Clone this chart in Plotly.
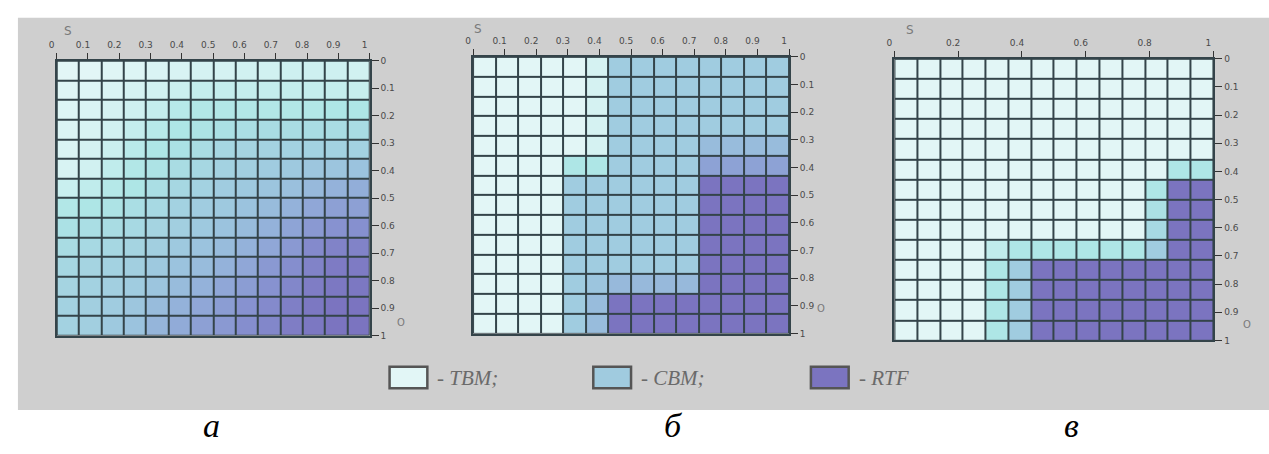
import numpy as np
import plotly.graph_objects as go

W, H = 1269, 454

# ---------------- data ----------------
# cell edges of the 14 x 14 grid on the S (horizontal) and sigma (vertical) axes
S_EDGES = np.linspace(0, 1, 15)
SIGMA_EDGES = np.linspace(0, 1, 15)

S_TICKS_AB = [0, 0.1, 0.2, 0.3, 0.4, 0.5, 0.6, 0.7, 0.8, 0.9, 1]
S_TICKS_C = [0, 0.2, 0.4, 0.6, 0.8, 1]
SIGMA_TICKS = [0, 0.1, 0.2, 0.3, 0.4, 0.5, 0.6, 0.7, 0.8, 0.9, 1]

# class index per cell: 0 = TBM, 0.5 = CBM, 1 = RTF (rows top -> bottom)
panel_a = [
    [0.00, 0.00, 0.02, 0.03, 0.05, 0.06, 0.08, 0.08, 0.10, 0.10, 0.12, 0.12, 0.12, 0.10],
    [0.02, 0.03, 0.05, 0.08, 0.10, 0.14, 0.18, 0.18, 0.18, 0.18, 0.18, 0.18, 0.18, 0.16],
    [0.03, 0.05, 0.08, 0.12, 0.18, 0.25, 0.28, 0.28, 0.28, 0.28, 0.28, 0.28, 0.30, 0.30],
    [0.04, 0.06, 0.10, 0.18, 0.25, 0.30, 0.32, 0.35, 0.36, 0.38, 0.38, 0.38, 0.38, 0.38],
    [0.05, 0.08, 0.14, 0.24, 0.30, 0.34, 0.38, 0.42, 0.44, 0.45, 0.46, 0.46, 0.46, 0.46],
    [0.06, 0.10, 0.20, 0.28, 0.32, 0.38, 0.42, 0.46, 0.48, 0.50, 0.52, 0.54, 0.55, 0.56],
    [0.15, 0.20, 0.26, 0.30, 0.36, 0.42, 0.46, 0.50, 0.52, 0.55, 0.58, 0.62, 0.66, 0.68],
    [0.28, 0.30, 0.32, 0.36, 0.40, 0.46, 0.50, 0.52, 0.56, 0.60, 0.66, 0.72, 0.76, 0.76],
    [0.34, 0.36, 0.38, 0.40, 0.44, 0.48, 0.52, 0.56, 0.60, 0.66, 0.74, 0.80, 0.84, 0.85],
    [0.38, 0.40, 0.42, 0.44, 0.48, 0.52, 0.56, 0.60, 0.66, 0.72, 0.80, 0.88, 0.92, 0.92],
    [0.42, 0.44, 0.46, 0.48, 0.52, 0.56, 0.60, 0.66, 0.72, 0.80, 0.86, 0.92, 0.96, 0.96],
    [0.44, 0.46, 0.48, 0.50, 0.55, 0.60, 0.66, 0.72, 0.78, 0.84, 0.90, 0.95, 0.98, 0.98],
    [0.46, 0.48, 0.50, 0.54, 0.60, 0.66, 0.72, 0.78, 0.84, 0.88, 0.94, 0.98, 1.00, 1.00],
    [0.46, 0.48, 0.52, 0.56, 0.64, 0.70, 0.76, 0.80, 0.86, 0.90, 0.95, 0.98, 1.00, 1.00],
]

panel_b = [
    [0, 0, 0, 0, 0, 0.08, 0.5, 0.5, 0.5, 0.5, 0.5, 0.5, 0.5, 0.5],
    [0, 0, 0, 0, 0, 0.08, 0.5, 0.5, 0.5, 0.5, 0.5, 0.5, 0.5, 0.5],
    [0, 0, 0, 0, 0, 0.08, 0.5, 0.5, 0.5, 0.5, 0.5, 0.5, 0.5, 0.5],
    [0, 0, 0, 0, 0, 0.08, 0.5, 0.5, 0.5, 0.5, 0.5, 0.5, 0.5, 0.5],
    [0, 0, 0, 0, 0, 0.08, 0.5, 0.5, 0.5, 0.5, 0.6, 0.6, 0.6, 0.6],
    [0, 0, 0, 0, 0.3, 0.3, 0.5, 0.5, 0.5, 0.5, 0.75, 0.75, 0.75, 0.75],
    [0, 0, 0, 0, 0.5, 0.5, 0.5, 0.5, 0.5, 0.5, 1, 1, 1, 1],
    [0, 0, 0, 0, 0.5, 0.5, 0.5, 0.5, 0.5, 0.5, 1, 1, 1, 1],
    [0, 0, 0, 0, 0.5, 0.5, 0.5, 0.5, 0.5, 0.5, 1, 1, 1, 1],
    [0, 0, 0, 0, 0.5, 0.5, 0.5, 0.5, 0.5, 0.5, 1, 1, 1, 1],
    [0, 0, 0, 0, 0.5, 0.5, 0.5, 0.5, 0.5, 0.5, 1, 1, 1, 1],
    [0, 0, 0, 0, 0.5, 0.55, 0.62, 0.62, 0.62, 0.62, 1, 1, 1, 1],
    [0, 0, 0, 0, 0.5, 0.6, 1, 1, 1, 1, 1, 1, 1, 1],
    [0, 0, 0, 0, 0.5, 0.6, 1, 1, 1, 1, 1, 1, 1, 1],
]

panel_c = [
    [0, 0, 0, 0, 0, 0, 0, 0, 0, 0, 0, 0, 0, 0],
    [0, 0, 0, 0, 0, 0, 0, 0, 0, 0, 0, 0, 0, 0],
    [0, 0, 0, 0, 0, 0, 0, 0, 0, 0, 0, 0, 0, 0],
    [0, 0, 0, 0, 0, 0, 0, 0, 0, 0, 0, 0, 0, 0],
    [0, 0, 0, 0, 0, 0, 0, 0, 0, 0, 0, 0, 0, 0],
    [0, 0, 0, 0, 0, 0, 0, 0, 0, 0, 0, 0, 0.3, 0.3],
    [0, 0, 0, 0, 0, 0, 0, 0, 0, 0, 0, 0.3, 1, 1],
    [0, 0, 0, 0, 0, 0, 0, 0, 0, 0, 0, 0.35, 1, 1],
    [0, 0, 0, 0, 0, 0, 0, 0, 0, 0, 0, 0.4, 1, 1],
    [0, 0, 0, 0, 0.2, 0.3, 0.3, 0.3, 0.3, 0.3, 0.3, 0.5, 1, 1],
    [0, 0, 0, 0, 0.3, 0.5, 1, 1, 1, 1, 1, 1, 1, 1],
    [0, 0, 0, 0, 0.3, 0.5, 1, 1, 1, 1, 1, 1, 1, 1],
    [0, 0, 0, 0, 0.3, 0.5, 1, 1, 1, 1, 1, 1, 1, 1],
    [0, 0, 0, 0, 0.3, 0.5, 1, 1, 1, 1, 1, 1, 1, 1],
]

LEGEND_NAMES = ["- TBM;", "- CBM;", "- RTF"]
PANEL_LETTERS = ["а", "б", "в"]

# ---------------- style ----------------
C_TBM = "#e2f6f6"
C_CBM = "#a0cbdf"
C_RTF = "#7b74c0"
COLORSCALE = [
    [0.00, C_TBM],
    [0.15, "#c9efef"],
    [0.30, "#aee6e6"],
    [0.45, "#a4d3e1"],
    [0.55, "#9cc5de"],
    [0.70, "#91abd8"],
    [0.85, "#8690cf"],
    [1.00, C_RTF],
]
GRID = "#34444a"
BG_GRAY = "#cfcfcf"
TICK_FONT = dict(family="DejaVu Sans", size=9, color="#4a4a4a")


def px_x(p):
    return p / W


def px_y(p):
    return 1 - p / H


# panel boxes in pixels (left, right, top, bottom)
BOXES = [(49, 364, 57, 338), (468, 786, 53, 336), (892, 1213, 55, 343)]
PANELS = [panel_a, panel_b, panel_c]
XTICKS = [S_TICKS_AB, S_TICKS_AB, S_TICKS_C]

fig = go.Figure()
layout_axes = {}
for i, (z, box, xt) in enumerate(zip(PANELS, BOXES, XTICKS), start=1):
    sx = "" if i == 1 else str(i)
    fig.add_trace(go.Heatmap(
        z=z, x=S_EDGES, y=SIGMA_EDGES,
        colorscale=COLORSCALE, zmin=0, zmax=1, showscale=False,
        xgap=2, ygap=2, hoverinfo="skip",
        xaxis="x" + sx, yaxis="y" + sx,
    ))
    l, r, t, b = box
    layout_axes["xaxis" + sx] = dict(
        domain=[px_x(l), px_x(r)], range=[0, 1], side="top", anchor="y" + sx,
        tickvals=xt, ticktext=[f"{v:g}" for v in xt],
        ticks="outside", ticklen=6, tickwidth=1, tickcolor="#333",
        ticklabelshift=-5, ticklabelstandoff=1,
        showgrid=False, zeroline=False, showline=True, linecolor=GRID,
        linewidth=2, mirror=True, tickfont=TICK_FONT, fixedrange=True,
    )
    layout_axes["yaxis" + sx] = dict(
        domain=[px_y(b), px_y(t)], range=[1, 0], side="right", anchor="x" + sx,
        tickvals=SIGMA_TICKS, ticktext=[f"{v:g}" for v in SIGMA_TICKS],
        ticks="outside", ticklen=7, tickwidth=1, tickcolor="#333",
        showgrid=False, zeroline=False, showline=True, linecolor=GRID,
        linewidth=2, mirror=True, tickfont=TICK_FONT, fixedrange=True,
    )

annotations = []
# white page margins around the grey picture area (paper itself is grey)
shapes = [
    dict(type="rect", xref="paper", yref="paper", layer="below",
         x0=-0.1, x1=1.1, y0=-0.2, y1=px_y(414), fillcolor="white", line=dict(width=0)),
    dict(type="rect", xref="paper", yref="paper", layer="below",
         x0=-0.1, x1=1.1, y0=px_y(13), y1=1.2, fillcolor="white", line=dict(width=0)),
    dict(type="rect", xref="paper", yref="paper", layer="below",
         x0=-0.1, x1=px_x(10), y0=-0.2, y1=1.2, fillcolor="white", line=dict(width=0)),
]

# axis symbols
S_POS = [(60, 27), (473, 25), (908, 26)]
O_POS = [(395, 325), (818, 310), (1247, 327)]
for (sxp, syp), (oxp, oyp) in zip(S_POS, O_POS):
    annotations.append(dict(x=px_x(sxp), y=px_y(syp), xref="paper", yref="paper",
                            xanchor="center", yanchor="middle",
                            text="S", showarrow=False,
                            font=dict(family="DejaVu Sans", size=12, color="#7a7a7a")))
    annotations.append(dict(x=px_x(oxp), y=px_y(oyp), xref="paper", yref="paper",
                            xanchor="center", yanchor="middle",
                            text="O", showarrow=False,
                            font=dict(family="DejaVu Sans", size=10, color="#7a7a7a")))

# legend (boxes + text)
LEG_BOX_X = [384, 589, 808]
for name, col, bx in zip(LEGEND_NAMES, [C_TBM, C_CBM, C_RTF], LEG_BOX_X):
    shapes.append(dict(type="rect", xref="paper", yref="paper",
                       x0=px_x(bx), x1=px_x(bx + 38), y0=px_y(392), y1=px_y(370),
                       fillcolor=col, line=dict(color="#555555", width=2.5)))
    annotations.append(dict(x=px_x(bx + 46), y=px_y(381), xref="paper", yref="paper",
                            xanchor="left", yanchor="middle", text=name, showarrow=False,
                            font=dict(family="Liberation Serif", size=21,
                                      color="#6a6a6a", style="italic")))

# panel letters
LETTER_X = [205, 670, 1070]
for letter, lx in zip(PANEL_LETTERS, LETTER_X):
    annotations.append(dict(x=px_x(lx), y=px_y(430), xref="paper", yref="paper",
                            xanchor="center", yanchor="middle", text=letter,
                            showarrow=False,
                            font=dict(family="Liberation Serif", size=34,
                                      color="#000000", style="italic")))

fig.update_layout(
    width=W, height=H, autosize=False,
    margin=dict(l=0, r=0, t=0, b=0),
    paper_bgcolor=BG_GRAY, plot_bgcolor=GRID,
    showlegend=False,
    annotations=annotations, shapes=shapes,
    **layout_axes,
)

fig.write_html("out.html", config={"displayModeBar": False})
